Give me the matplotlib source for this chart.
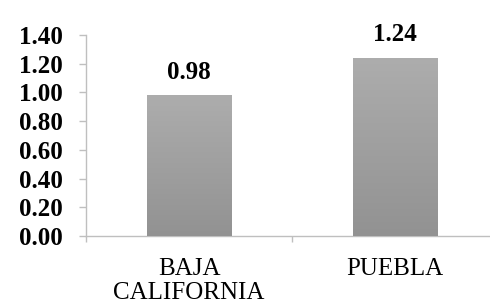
import numpy as np
import matplotlib
matplotlib.use('Agg')
import matplotlib.pyplot as plt

categories = ['BAJA\nCALIFORNIA', 'PUEBLA']
values = [0.98, 1.24]
value_labels = ['0.98', '1.24']
yticks = [0.0, 0.2, 0.4, 0.6, 0.8, 1.0, 1.2, 1.4]

plt.rcParams['font.family'] = ['Liberation Serif', 'DejaVu Serif']

fig = plt.figure(figsize=(4.9, 3.05), dpi=100)
ax = fig.add_axes([86/490, 1 - 236/305, 412/490, 201/305])

x = np.arange(len(categories))
bars = ax.bar(x, values, width=0.41, color='#a0a0a0', zorder=2)

# vertical grey gradient on each bar, light at top
grad = np.linspace(0, 1, 256).reshape(-1, 1)
cmap = matplotlib.colors.LinearSegmentedColormap.from_list('g', ['#929292', '#adadad'])
for b in bars:
    x0, y0 = b.get_x(), b.get_y()
    w, h = b.get_width(), b.get_height()
    im = ax.imshow(grad, cmap=cmap, origin='lower', aspect='auto',
                   extent=(x0, x0 + w, y0, y0 + h), zorder=3)
    im.set_clip_path(b)

for xi, v, lab in zip(x, values, value_labels):
    ax.annotate(lab, (xi, v), xytext=(0, 23), textcoords='offset pixels',
                ha='center', va='center', fontsize=18, fontweight='bold')

ax.set_xlim(-0.5, 1.5)
ax.set_ylim(0, 1.4)
ax.set_yticks(yticks)
ax.set_yticklabels(['%.2f' % t for t in yticks], fontsize=18, fontweight='bold')
ax.set_xticks([-0.5, 0.5, 1.5])
ax.set_xticklabels([])
ax.set_xticks(x, minor=True)
ax.set_xticklabels(categories, minor=True, fontsize=18, linespacing=1.16)
ax.tick_params(axis='x', which='minor', length=0, pad=15.5)
ax.tick_params(axis='x', which='major', length=4.5, color='#bfbfbf', width=1)
ax.tick_params(axis='y', length=5, color='#bfbfbf', width=1, pad=11.5)

for s in ['top', 'right']:
    ax.spines[s].set_visible(False)
for s in ['left', 'bottom']:
    ax.spines[s].set_color('#bfbfbf')
    ax.spines[s].set_linewidth(1)

fig.savefig('out.png', dpi=100)
